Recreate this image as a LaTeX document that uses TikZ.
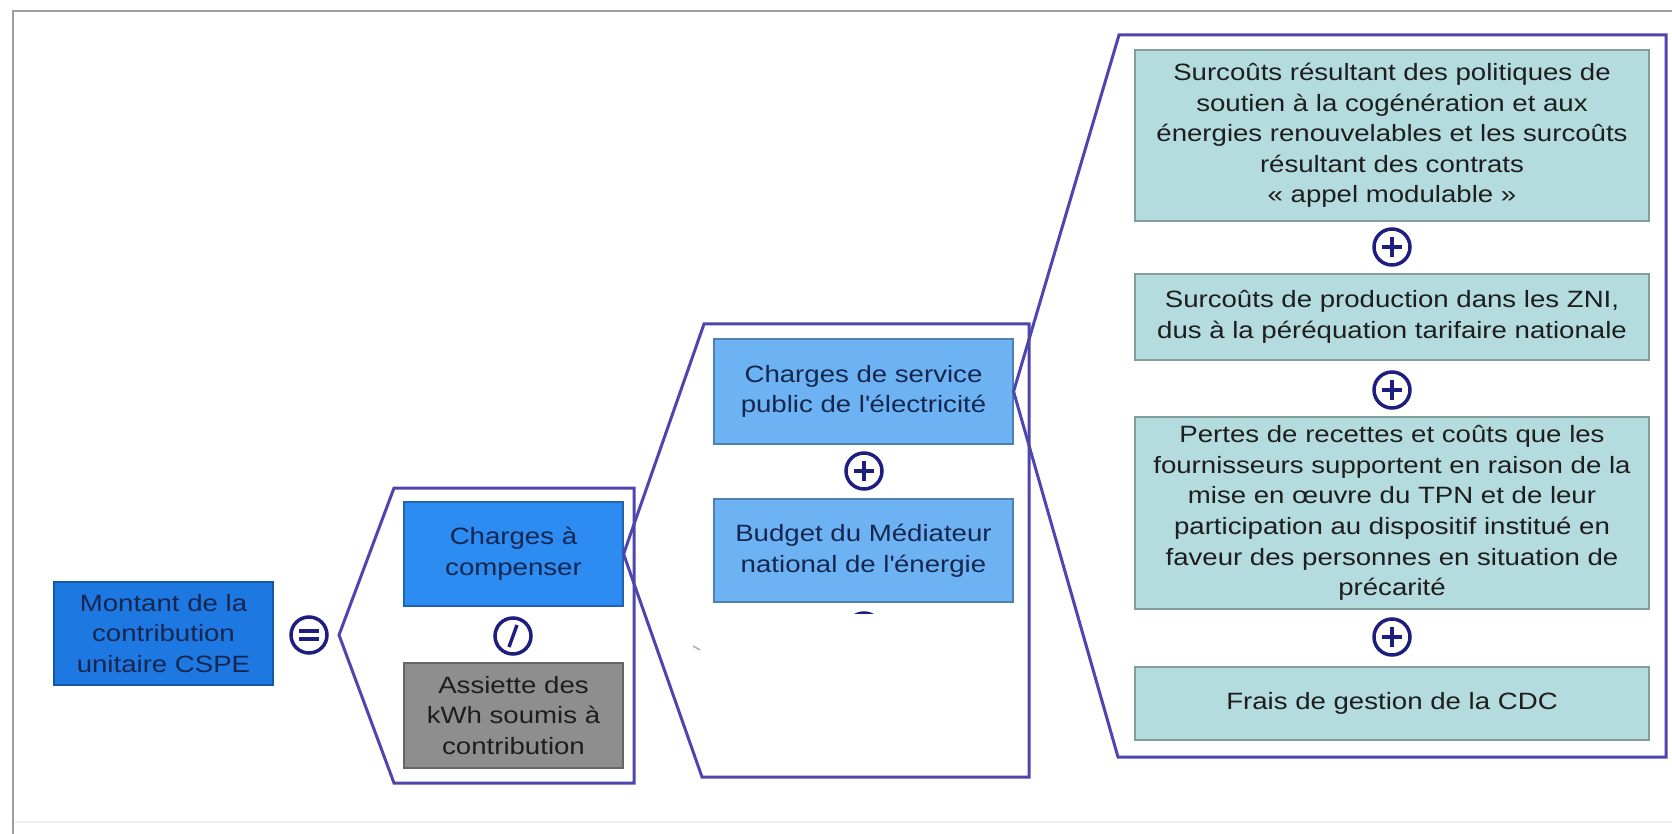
\documentclass[tikz,border=0pt]{standalone}
\usepackage{fontspec}
\setmainfont{Liberation Sans}[FakeStretch=1.17]
\definecolor{cMont}{HTML}{1E78E2}
\definecolor{cChg}{HTML}{2C8CF2}
\definecolor{cGray}{HTML}{8E8E8E}
\definecolor{cLight}{HTML}{6DB3F3}
\definecolor{cTeal}{HTML}{B4DBDD}
\definecolor{cFrame}{HTML}{4E46AE}
\definecolor{cOp}{HTML}{1E1E7E}
\definecolor{cNavy}{HTML}{15264F}
\definecolor{cInk}{HTML}{1E1E1E}
\begin{document}
\begin{tikzpicture}[x=0.5pt,y=-0.5pt,
  txt/.style={align=center, font=\fontsize{11.8}{15.3}\selectfont, inner sep=0pt},
  box/.style={txt, fill=#1, draw=#1!72!black, line width=0.6pt},
  opc/.style={circle, draw=cOp, line width=1.75pt, minimum size=18pt, inner sep=0pt, fill=white},
  sym/.style={draw=cOp, line width=2pt},
  frame/.style={draw=cFrame, line width=1.5pt, line join=miter}]
\useasboundingbox (0,0) rectangle (1672,834);
\fill[white] (0,0) rectangle (1672,834);
% outer gray frame
\draw[gray!12, line width=1pt] (13,822) -- (1672,822);
\draw[black!38, line width=1.2pt] (1672,11) -- (13,11) -- (13,834);

% level 1
\node[box=cMont, text=cNavy, minimum width=109.5pt, minimum height=51.5pt] (mont) at (163.5,633.5) {Montant de la\\contribution\\unitaire CSPE};
\node[opc] (eq) at (309,635) {};
\draw[sym] ([shift={(-10,-4.2)}]eq.center) -- ([shift={(10,-4.2)}]eq.center);
\draw[sym] ([shift={(-10,4.2)}]eq.center) -- ([shift={(10,4.2)}]eq.center);

% level 2
\node[box=cChg, text=cNavy, minimum width=109.5pt, minimum height=52pt] (chg) at (513.5,554) {Charges à\\compenser};
\node[opc] (dv) at (513,636) {};
\draw[sym, line width=1.7pt] ([shift={(-4,11)}]dv.center) -- ([shift={(4,-11)}]dv.center);
\node[box=cGray, text=cInk, minimum width=109.5pt, minimum height=52.5pt] (ass) at (513.5,715.5) {Assiette des\\kWh soumis à\\contribution};

% level 3
\node[box=cLight, text=cNavy, minimum width=149.5pt, minimum height=52.5pt] (csp) at (863.5,391.5) {Charges de service\\public de l\textquotesingle électricité};
\node[opc] (p1) at (864,471) {};
\node[box=cLight, text=cNavy, minimum width=149.5pt, minimum height=51.5pt] (med) at (863.5,550.5) {Budget du Médiateur\\national de l\textquotesingle énergie};
\node[opc] (p2) at (864,631) {};
\foreach \n in {p1,p2}{
  \draw[sym] ([shift={(-10,0)}]\n.center) -- ([shift={(10,0)}]\n.center);
  \draw[sym] ([shift={(0,-10)}]\n.center) -- ([shift={(0,10)}]\n.center);
}
% white patch over the lower part
\fill[white] (703,614) rectangle (1027,775);
\draw[black!30, line width=0.8pt] (693,646) -- (700,650);

% level 4
\node[box=cTeal, text=cInk, minimum width=257pt, minimum height=85.5pt] (f1) at (1392,135.5) {Surcoûts résultant des politiques de\\soutien à la cogénération et aux\\énergies renouvelables et les surcoûts\\résultant des contrats\\« appel modulable »};
\node[opc] (q1) at (1392,247) {};
\node[box=cTeal, text=cInk, minimum width=257pt, minimum height=43pt] (f2) at (1392,317) {Surcoûts de production dans les ZNI,\\dus à la péréquation tarifaire nationale};
\node[opc] (q2) at (1392,390) {};
\node[box=cTeal, text=cInk, minimum width=257pt, minimum height=96pt] (f3) at (1392,513) {Pertes de recettes et coûts que les\\fournisseurs supportent en raison de la\\mise en œuvre du TPN et de leur\\participation au dispositif institué en\\faveur des personnes en situation de\\précarité};
\node[opc] (q3) at (1392,637) {};
\node[box=cTeal, text=cInk, minimum width=257pt, minimum height=36.5pt] (f4) at (1392,703.5) {Frais de gestion de la CDC};
\foreach \n in {q1,q2,q3}{
  \draw[sym] ([shift={(-10,0)}]\n.center) -- ([shift={(10,0)}]\n.center);
  \draw[sym] ([shift={(0,-10)}]\n.center) -- ([shift={(0,10)}]\n.center);
}

% group frames
\coordinate (g1tip) at (339,635);
\draw[frame] (g1tip) -- (394,488) -- (634,488) -- (634,783) -- (394,783) -- cycle;
\draw[frame] (chg.east) -- (704,324) -- (1029,324) -- (1029,777) -- (702,777) -- cycle;
\draw[frame] (csp.east) -- (1119,35) -- (1666,35) -- (1666,757) -- (1118,757) -- cycle;
\end{tikzpicture}
\end{document}
